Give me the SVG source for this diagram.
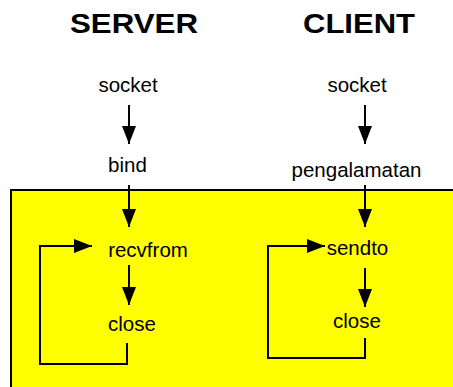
<svg xmlns="http://www.w3.org/2000/svg" width="453" height="387" viewBox="0 0 453 387">
<defs>
<style>
.t{font-family:"Liberation Sans",Arial,sans-serif;font-size:20.5px;fill:#000;text-anchor:middle}
.h{font-family:"Liberation Sans",Arial,sans-serif;font-size:28px;font-weight:bold;fill:#000;text-anchor:middle}
.c{fill:none;stroke:#000;stroke-width:2;marker-end:url(#ah)}
</style>
<marker id="ah" markerUnits="userSpaceOnUse" markerWidth="18" markerHeight="14" refX="18" refY="7" orient="auto">
<path d="M0,0 L18,7 L0,14 z" fill="#000"/>
</marker>
</defs>
<rect x="11" y="190" width="460" height="220" fill="#ffff00" stroke="#000" stroke-width="2"/>
<g id="title-server"><text class="h" x="134" y="33" textLength="128" lengthAdjust="spacingAndGlyphs">SERVER</text></g>
<g id="title-client"><text class="h" x="359" y="33" textLength="112" lengthAdjust="spacingAndGlyphs">CLIENT</text></g>
<g id="s-socket"><text class="t" x="128" y="92">socket</text></g>
<g id="c-socket"><text class="t" x="357" y="92">socket</text></g>
<g id="s-bind"><text class="t" x="127.5" y="172">bind</text></g>
<g id="c-pengalamatan"><text class="t" x="356.5" y="177">pengalamatan</text></g>
<g id="s-recvfrom"><text class="t" x="148" y="257">recvfrom</text></g>
<g id="s-close"><text class="t" x="132" y="331">close</text></g>
<g id="c-sendto"><text class="t" x="357.5" y="255">sendto</text></g>
<g id="c-close"><text class="t" x="357" y="328">close</text></g>
<g id="connectors">
<path class="c" d="M129,105 V144"/>
<path class="c" d="M365,105 V144"/>
<path class="c" d="M129,185 V227"/>
<path class="c" d="M365,185 V227"/>
<path class="c" d="M129,265 V305"/>
<path class="c" d="M365,268 V307"/>
<path class="c" d="M127,343 V364 H40 V246 H92"/>
<path class="c" d="M365,338 V358 H268 V246 H325"/>
</g>
</svg>
